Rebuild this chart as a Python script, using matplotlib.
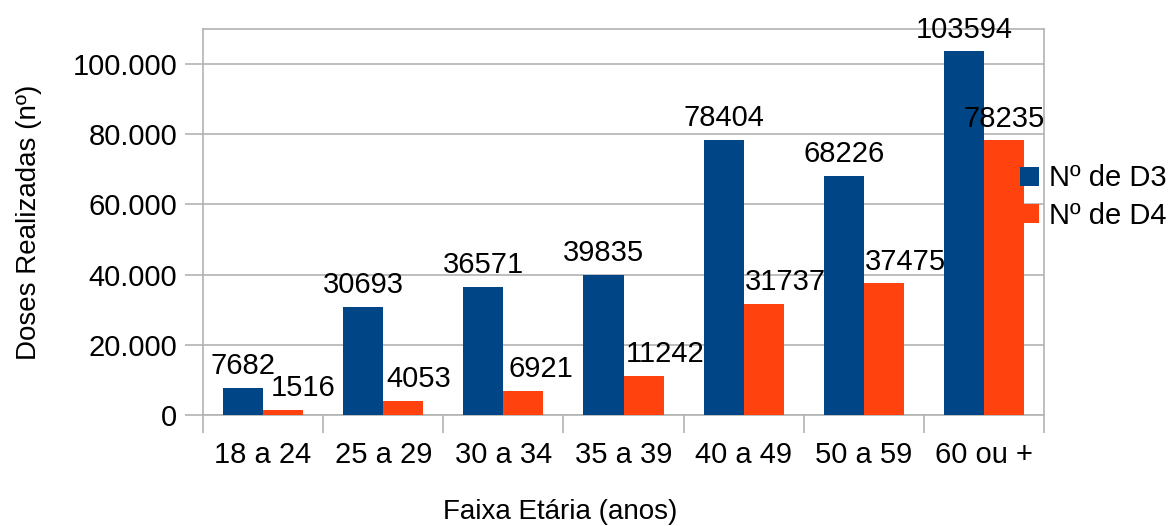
import numpy as np
import matplotlib.pyplot as plt
from matplotlib.ticker import FuncFormatter

plt.rcParams['font.family'] = ['Liberation Sans', 'DejaVu Sans']

# Dados
faixas = ['18 a 24', '25 a 29', '30 a 34', '35 a 39', '40 a 49', '50 a 59', '60 ou +']
d3 = [7682, 30693, 36571, 39835, 78404, 68226, 103594]
d4 = [1516, 4053, 6921, 11242, 31737, 37475, 78235]
series = ['Nº de D3', 'Nº de D4']

# deslocamento horizontal (px) dos rotulos de D4, como no original
dx_d4 = [20, 16, 17, 22, 22, 22, 0]

azul = '#004586'
laranja = '#ff420e'
cinza = '#b3b3b3'

fig = plt.figure(figsize=(11.73, 5.26), dpi=100)
ax = fig.add_axes([203/1173, 1 - 415/526, (1044 - 203)/1173, (415 - 29)/526])

x = np.arange(len(faixas))
w = 1/3
b1 = ax.bar(x, d3, width=-w, align='edge', color=azul, label=series[0], zorder=3)
b2 = ax.bar(x, d4, width=w, align='edge', color=laranja, label=series[1], zorder=3)

for rect, v in zip(b1, d3):
    ax.annotate(str(v), (rect.get_x() + rect.get_width()/2, v),
                xytext=(0, 10), textcoords='offset points',
                ha='center', va='baseline', fontsize=21, zorder=5)
for rect, v, dx in zip(b2, d4, dx_d4):
    ax.annotate(str(v), (rect.get_x() + rect.get_width()/2, v),
                xytext=(dx*0.72, 10), textcoords='offset points',
                ha='center', va='baseline', fontsize=21, zorder=5)

ax.set_xlim(-0.5, len(faixas) - 0.5)
ax.set_ylim(0, 110000)
ax.set_yticks(np.arange(0, 100001, 20000))
ax.yaxis.set_major_formatter(FuncFormatter(lambda v, p: f'{int(v):,}'.replace(',', '.')))
ax.grid(axis='y', color=cinza, linewidth=1.2, zorder=0)

# rotulos das categorias no centro, marcas nas divisas
ax.set_xticks(np.arange(-0.5, len(faixas)), minor=False)
ax.set_xticklabels([])
ax.set_xticks(x, minor=True)
ax.set_xticklabels(faixas, minor=True)
ax.tick_params(axis='x', which='major', length=13, color=cinza, width=1.2)
ax.tick_params(axis='x', which='minor', length=0, pad=19, labelsize=21)
ax.tick_params(axis='y', length=13, color=cinza, width=1.2, pad=5.5, labelsize=21)

for s in ax.spines.values():
    s.set_color(cinza)
    s.set_linewidth(1.2)

ax.set_ylabel('Doses Realizadas (nº)', fontsize=20, labelpad=22)
fig.text(560/1173, 1 - 512/526, 'Faixa Etária (anos)', fontsize=20, ha='center', va='center')

fig.legend(handles=[b1, b2], loc='center left', bbox_to_anchor=(1020/1173, 1 - 197/526),
           frameon=False, fontsize=21, handlelength=0.65, handleheight=0.62,
           handletextpad=0.34, labelspacing=0.32, borderpad=0, borderaxespad=0)

fig.savefig('out.png', dpi=100)
